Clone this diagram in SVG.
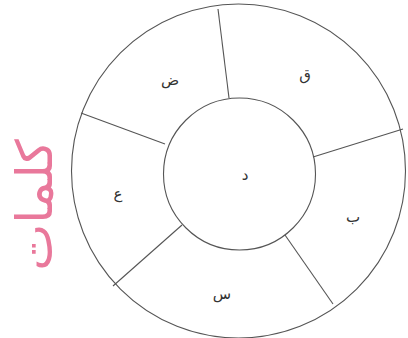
<svg xmlns="http://www.w3.org/2000/svg" width="408" height="338" viewBox="0 0 408 338">
<style>
.c{fill:none;stroke:#555;stroke-width:1.1}
.l{stroke:#555;stroke-width:1.1}
.t{font-family:"Noto Sans","DejaVu Sans",sans-serif;font-size:15px;fill:#333;text-anchor:middle;dominant-baseline:central}
.p{font-family:"Noto Sans","DejaVu Sans",sans-serif;font-size:50px;fill:#e9789b;text-anchor:middle;dominant-baseline:central}
</style>
<rect width="408" height="338" fill="#fff"/>
<g id="outer"><circle class="c" cx="238.5" cy="171" r="167"/></g>
<g id="inner"><circle class="c" cx="239.5" cy="174" r="76"/><text class="t" x="245" y="174">د</text></g>
<g id="connectors">
<line class="l" x1="229" y1="98" x2="218" y2="9"/>
<line class="l" x1="313" y1="157" x2="403" y2="129"/>
<line class="l" x1="285" y1="235" x2="333" y2="304"/>
<line class="l" x1="182" y1="225" x2="113" y2="286"/>
<line class="l" x1="165" y1="144" x2="81" y2="113"/>
</g>
<g id="q"><text class="t" x="305" y="74">ق</text></g>
<g id="d"><text class="t" x="170" y="79">ض</text></g>
<g id="a"><text class="t" x="118" y="193">ع</text></g>
<g id="b"><text class="t" x="353" y="216">ب</text></g>
<g id="s"><text class="t" x="222" y="293">س</text></g>
<g id="label"><text class="p" transform="translate(33,205) rotate(-90)">كلمات</text></g>
</svg>
